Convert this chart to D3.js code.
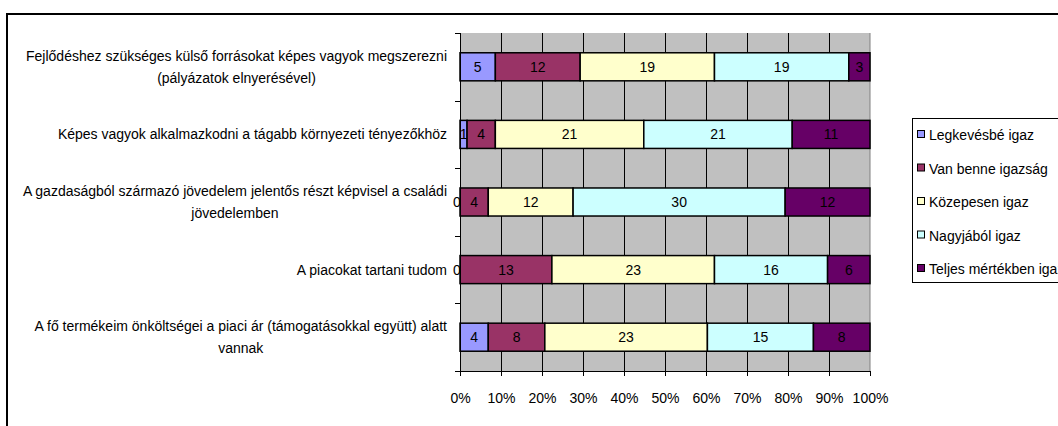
<!DOCTYPE html>
<html><head><meta charset="utf-8">
<script src="https://cdn.jsdelivr.net/npm/d3@7"></script>
<style>
body{margin:0;background:#fff;}
text{font-family:"Liberation Sans",Arial,sans-serif;}
</style></head>
<body><svg id="c" width="1058" height="426"></svg>
<script>
const categories = [
  ["Fejlődéshez szükséges külső forrásokat képes vagyok megszerezni","(pályázatok elnyerésével)"],
  ["Képes vagyok alkalmazkodni a tágabb környezeti tényezőkhöz"],
  ["A gazdaságból származó jövedelem jelentős részt képvisel a családi","jövedelemben"],
  ["A piacokat tartani tudom"],
  ["A fő termékeim önköltségei a piaci ár (támogatásokkal együtt) alatt","vannak"]
];
const seriesNames = ["Legkevésbé igaz","Van benne igazság","Közepesen igaz","Nagyjából igaz","Teljes mértékben igaz"];
const legkevesbe = [5,1,0,0,4];
const vanBenne   = [12,4,4,13,8];
const kozepesen  = [19,21,12,23,23];
const nagyjabol  = [19,21,30,16,15];
const teljes     = [3,11,12,6,8];
const tickLabels = ["0%","10%","20%","30%","40%","50%","60%","70%","80%","90%","100%"];
const colors = ["#9999FF","#993366","#FFFFCC","#CCFFFF","#660066"];

const series = [legkevesbe,vanBenne,kozepesen,nagyjabol,teljes];
const svg = d3.select("#c");
const L=460,R=870,T=33,B=371;
const x = d3.scaleLinear().domain([0,1]).range([L,R]);
const y = d3.scaleBand().domain(d3.range(categories.length)).range([T,B]).paddingInner(0.585).paddingOuter(0.2925);
const yStep = y.step();

// outer frame
svg.append("rect").attr("x",7).attr("y",14).attr("width",1200).attr("height",600)
  .attr("fill","#fff").attr("stroke","#000").attr("stroke-width",2);

// plot background
svg.append("rect").attr("x",L).attr("y",T).attr("width",R-L).attr("height",B-T).attr("fill","#C0C0C0");
// right border gray
svg.append("line").attr("x1",R).attr("x2",R).attr("y1",T).attr("y2",B).attr("stroke","#808080");

// vertical gridlines
const tv = d3.range(0,1.0001,0.1);
svg.append("g").selectAll("line").data(tv.slice(1,-1)).join("line")
  .attr("x1",d=>Math.round(x(d))+0.5).attr("x2",d=>Math.round(x(d))+0.5).attr("y1",T).attr("y2",B)
  .attr("stroke","#000").attr("stroke-width",1);

// stacked bars
const rows = categories.map((c,i)=>{
  const tot = d3.sum(series,s=>s[i]);
  let acc=0;
  return series.map((s,k)=>{const v=s[i];const seg={i,k,v,x0:acc/tot,x1:(acc+v)/tot};acc+=v;return seg;});
});
const segs = rows.flat();
svg.append("g").selectAll("rect").data(segs.filter(d=>d.v>0)).join("rect")
  .attr("x",d=>x(d.x0)).attr("width",d=>x(d.x1)-x(d.x0))
  .attr("y",d=>y(d.i)).attr("height",y.bandwidth())
  .attr("fill",d=>colors[d.k]).attr("stroke","#000").attr("stroke-width",1.5);

// data labels
svg.append("g").selectAll("text").data(segs).join("text")
  .attr("x",d=>d.v===0?x(d.x0)-3:(x(d.x0)+x(d.x1))/2)
  .attr("y",d=>y(d.i)+y.bandwidth()/2)
  .attr("dy","0.36em").attr("text-anchor","middle")
  .attr("font-size",14).attr("fill","#000")
  .text(d=>d.v);

// x axis
const xAxis = d3.axisBottom(x).tickValues(tv).tickSize(5).tickFormat((d,i)=>tickLabels[i]);
const gx = svg.append("g").attr("transform",`translate(0,${B})`).call(xAxis);
gx.select(".domain").attr("stroke","#000").attr("d",`M${L-5},0.5H${R}`);
gx.selectAll(".tick line").attr("stroke","#000");
gx.selectAll(".tick text").attr("font-size",14).attr("font-family","Liberation Sans, Arial").attr("fill","#000").attr("y",22);

// y axis line + ticks at boundaries
svg.append("line").attr("x1",L+0.5).attr("x2",L+0.5).attr("y1",T).attr("y2",B).attr("stroke","#000");
const bounds = d3.range(categories.length+1).map(i=>T+i*yStep);
svg.append("g").selectAll("line").data(bounds).join("line")
  .attr("x1",L-5).attr("x2",L).attr("y1",d=>Math.round(d)+0.5).attr("y2",d=>Math.round(d)+0.5).attr("stroke","#000");

// category labels
const lh = 22;
const lg = svg.append("g");
categories.forEach((lines,i)=>{
  const cy = y(i)+y.bandwidth()/2;
  const t = lg.append("text").attr("font-size",14).attr("fill","#000").attr("text-anchor","middle");
  lines.forEach((ln,j)=>{
    t.append("tspan").attr("y",cy+(j-(lines.length-1)/2)*lh).attr("dy","0.36em").text(ln);
  });
  // right-align the block: find widest line
  const w = d3.max(t.selectAll("tspan").nodes(),n=>n.getComputedTextLength());
  t.selectAll("tspan").attr("x",447-w/2);
});

// legend
const lgX=912, lgY=118, lgStep=33.5;
svg.append("rect").attr("x",lgX+0.5).attr("y",lgY+0.5).attr("width",300).attr("height",164)
  .attr("fill","#fff").attr("stroke","#000");
const le = svg.append("g").selectAll("g").data(seriesNames).join("g")
  .attr("transform",(d,i)=>`translate(${lgX+5},${lgY+17+i*lgStep})`);
le.append("rect").attr("x",0.5).attr("y",-4.5).attr("width",7).attr("height",7)
  .attr("fill",(d,i)=>colors[i]).attr("stroke","#000");
le.append("text").attr("x",12).attr("dy","0.36em").attr("font-size",14).text(d=>d);
</script></body></html>
